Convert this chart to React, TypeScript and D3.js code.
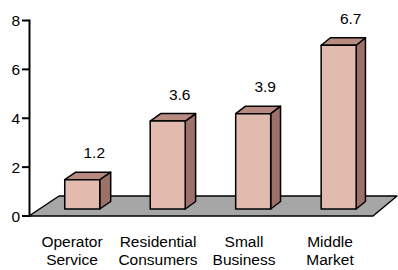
import React from 'react';
import * as d3 from 'd3';

// chart data
const categories = [
  ['Operator', 'Service'],
  ['Residential', 'Consumers'],
  ['Small', 'Business'],
  ['Middle', 'Market'],
];
const values = [1.2, 3.6, 3.9, 6.7];
const yTicks = [0, 2, 4, 6, 8];

const W = 398;
const H = 270;
const FONT = 'Liberation Sans, Arial, sans-serif';

export default function App() {
  const x = d3.scaleBand<number>().domain(values.map((_, i) => i)).range([29, 373]);
  const y = d3.scaleLinear().domain([0, 8]).range([216, 20.5]);
  // oblique depth: horizontal shift per px of depth shrinks to the right
  const slope = d3.scaleLinear().domain([29, 373]).range([1.5, 1.2]);
  const floorDepth = 20;
  const d0 = 7;
  const d1 = 14.5;
  const barW = 35;

  const pt = (px: number, v: number, d: number, s = slope(px)) => [px + d * s, y(v) - d];
  const poly = (pts: number[][]) => pts.map(p => p.join(',')).join(' ');

  const floor = [pt(29, 0, 0), pt(373, 0, 0), pt(373, 0, floorDepth), pt(29, 0, floorDepth)];

  return (
    <div style={{ position: 'absolute', left: 0, top: 0 }}>
      <svg width={W} height={H} style={{ display: 'block', background: '#fff' }}>
        {/* floor */}
        <polygon points={poly(floor)} fill="#a6a6a6" stroke="#000" strokeWidth={1.5} strokeLinejoin="round" />

        {/* bars */}
        {values.map((v, i) => {
          const cx = x(i)! + x.bandwidth() / 2;
          const s = slope(cx);
          const x0 = cx - barW / 2;
          const x1 = cx + barW / 2;
          const front = [pt(x0, v, d0, s), pt(x1, v, d0, s), pt(x1, 0, d0, s), pt(x0, 0, d0, s)];
          const top = [pt(x0, v, d0, s), pt(x1, v, d0, s), pt(x1, v, d1, s), pt(x0, v, d1, s)];
          const side = [pt(x1, v, d0, s), pt(x1, 0, d0, s), pt(x1, 0, d1, s), pt(x1, v, d1, s)];
          const topBack = pt(cx, v, d1, s);
          return (
            <g key={i} stroke="#000" strokeWidth={1.5} strokeLinejoin="round">
              <polygon points={poly(side)} fill="#9b7169" />
              <polygon points={poly(top)} fill="#b88b81" />
              <polygon points={poly(front)} fill="#e3bbae" />
              <text x={cx + d0 * s + 12} y={topBack[1] - 14} textAnchor="middle" stroke="none"
                fill="#000" fontSize={15.5} fontFamily={FONT}>{v.toFixed(1)}</text>
            </g>
          );
        })}

        {/* y axis */}
        <line x1={29.5} x2={29.5} y1={y(8) - 1} y2={y(0) + 1} stroke="#000" strokeWidth={2} />
        {yTicks.map(t => (
          <g key={t}>
            <line x1={22} x2={29.5} y1={y(t)} y2={y(t)} stroke="#000" strokeWidth={2} />
            <text x={20} y={y(t)} dy="0.36em" textAnchor="end" fontSize={15.5} fontFamily={FONT}>{t}</text>
          </g>
        ))}

        {/* category labels */}
        {categories.map((lines, i) => (
          <text key={i} x={x(i)! + x.bandwidth() / 2} y={247} textAnchor="middle" fontSize={15.5} fontFamily={FONT}>
            {lines.map((l, j) => (
              <tspan key={j} x={x(i)! + x.bandwidth() / 2} dy={j === 0 ? 0 : 18}>{l}</tspan>
            ))}
          </text>
        ))}
      </svg>
    </div>
  );
}
